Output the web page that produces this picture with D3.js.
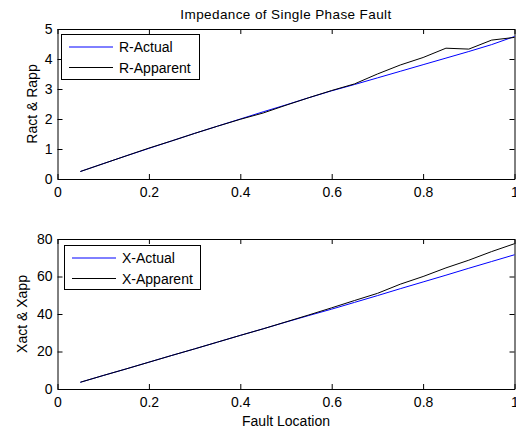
<!DOCTYPE html>
<html>
<head>
<meta charset="utf-8">
<script src="https://cdn.jsdelivr.net/npm/d3@7"></script>
<style>
  body { margin: 0; background: #fff; }
  svg { display: block; font-family: "Liberation Sans", Arial, sans-serif; }
</style>
</head>
<body>
<div id="vis"></div>
<script>
const width = 516;
const height = 432;

// fault location (per unit of line length)
const faultLocation = [0.05, 0.1, 0.15, 0.2, 0.25, 0.3, 0.35, 0.4, 0.45, 0.5,
                       0.55, 0.6, 0.65, 0.7, 0.75, 0.8, 0.85, 0.9, 0.95, 1.0];

const rActual   = [0.25, 0.51, 0.77, 1.02, 1.27, 1.52, 1.76, 2.0, 2.24, 2.47,
                   2.71, 2.94, 3.15, 3.37, 3.59, 3.81, 4.03, 4.25, 4.48, 4.75];
const rApparent = [0.25, 0.51, 0.77, 1.03, 1.27, 1.52, 1.76, 1.99, 2.2, 2.46,
                   2.71, 2.95, 3.17, 3.5, 3.8, 4.05, 4.36, 4.33, 4.63, 4.72];

const xActual   = [3.6, 7.2, 10.7, 14.3, 17.9, 21.4, 25.0, 28.6, 32.1, 35.7,
                   39.2, 42.6, 46.2, 49.8, 53.5, 57.1, 60.7, 64.4, 68.0, 71.6];
const xApparent = [3.6, 7.2, 10.7, 14.3, 17.9, 21.4, 25.0, 28.6, 32.1, 35.8,
                   39.5, 43.3, 47.2, 51.0, 55.9, 60.0, 64.6, 68.7, 73.3, 77.5];

const xTicks = [0, 0.2, 0.4, 0.6, 0.8, 1];
const rTicks = [0, 1, 2, 3, 4, 5];
const xxTicks = [0, 20, 40, 60, 80];

const panels = [
  { top: 29, bottom: 179, max: 5, ticks: rTicks, ylabel: "Ract & Rapp", ylabelX: 36.5,
    series: [{ name: "R-Actual", values: rActual, color: "#0000ff" },
             { name: "R-Apparent", values: rApparent, color: "#000000" }],
    legend: { x: 61, y: 34, w: 138, h: 45 } },
  { top: 239, bottom: 389, max: 80, ticks: xxTicks, ylabel: "Xact & Xapp", ylabelX: 26.5,
    series: [{ name: "X-Actual", values: xActual, color: "#0000ff" },
             { name: "X-Apparent", values: xApparent, color: "#000000" }],
    legend: { x: 64, y: 245, w: 136, h: 44 } }
];

const left = 57.5, right = 514.5;

const svg = d3.select("#vis").append("svg")
  .attr("width", width)
  .attr("height", height);

const x = d3.scaleLinear().domain([0, 1]).range([left, right]);

panels.forEach(p => {
  const y = d3.scaleLinear().domain([0, p.max]).range([p.bottom, p.top]);
  const g = svg.append("g");

  // white axes area
  g.append("rect")
    .attr("x", left).attr("y", p.top)
    .attr("width", right - left).attr("height", p.bottom - p.top)
    .attr("fill", "#fff");

  // bottom axis with labels, ticks inward
  g.append("g")
    .attr("transform", `translate(0,${p.bottom})`)
    .call(d3.axisBottom(x).tickValues(xTicks).tickFormat(d3.format("~g"))
      .tickSizeInner(-5).tickSizeOuter(0).tickPadding(8));
  // top axis, ticks only
  g.append("g")
    .attr("transform", `translate(0,${p.top})`)
    .call(d3.axisTop(x).tickValues(xTicks).tickFormat("")
      .tickSizeInner(-5).tickSizeOuter(0));
  // left axis with labels
  g.append("g")
    .attr("transform", `translate(${left},0)`)
    .call(d3.axisLeft(y).tickValues(p.ticks).tickFormat(d3.format("~g"))
      .tickSizeInner(-5).tickSizeOuter(0).tickPadding(5));
  // right axis, ticks only
  g.append("g")
    .attr("transform", `translate(${right},0)`)
    .call(d3.axisRight(y).tickValues(p.ticks).tickFormat("")
      .tickSizeInner(-5).tickSizeOuter(0));

  g.selectAll(".domain, .tick line").attr("stroke", "#000").attr("stroke-width", 1);
  g.selectAll(".tick text").attr("font-size", 14).attr("fill", "#000")
    .attr("font-family", "Liberation Sans, Arial, sans-serif");

  // data lines
  const line = d3.line()
    .x((d, i) => x(faultLocation[i]))
    .y(d => y(d));
  p.series.forEach(s => {
    g.append("path")
      .datum(s.values)
      .attr("fill", "none")
      .attr("stroke", s.color)
      .attr("stroke-width", 1)
      .attr("d", line);
  });

  // y label
  g.append("text")
    .attr("transform", `translate(${p.ylabelX},${(p.top + p.bottom) / 2}) rotate(-90)`)
    .attr("text-anchor", "middle")
    .attr("font-size", 14)
    .text(p.ylabel);

  // legend
  const lg = g.append("g").attr("transform", `translate(${p.legend.x},${p.legend.y})`);
  lg.append("rect")
    .attr("x", 0.5).attr("y", 0.5)
    .attr("width", p.legend.w).attr("height", p.legend.h)
    .attr("fill", "#fff").attr("stroke", "#000").attr("stroke-width", 1);
  p.series.forEach((s, i) => {
    const cy = 13 + i * 20.5;
    lg.append("line")
      .attr("x1", 8).attr("x2", 52)
      .attr("y1", cy).attr("y2", cy)
      .attr("stroke", s.color).attr("stroke-width", 1);
    lg.append("text")
      .attr("x", 58).attr("y", cy + 5)
      .attr("font-size", 14)
      .text(s.name);
  });
});

// title and x label
svg.append("text")
  .attr("x", (left + right) / 2).attr("y", 19)
  .attr("text-anchor", "middle")
  .attr("font-size", 13.5)
  .attr("letter-spacing", 0.4)
  .text("Impedance of Single Phase Fault");

svg.append("text")
  .attr("x", (left + right) / 2).attr("y", 426)
  .attr("text-anchor", "middle")
  .attr("font-size", 14)
  .text("Fault Location");
</script>
</body>
</html>
